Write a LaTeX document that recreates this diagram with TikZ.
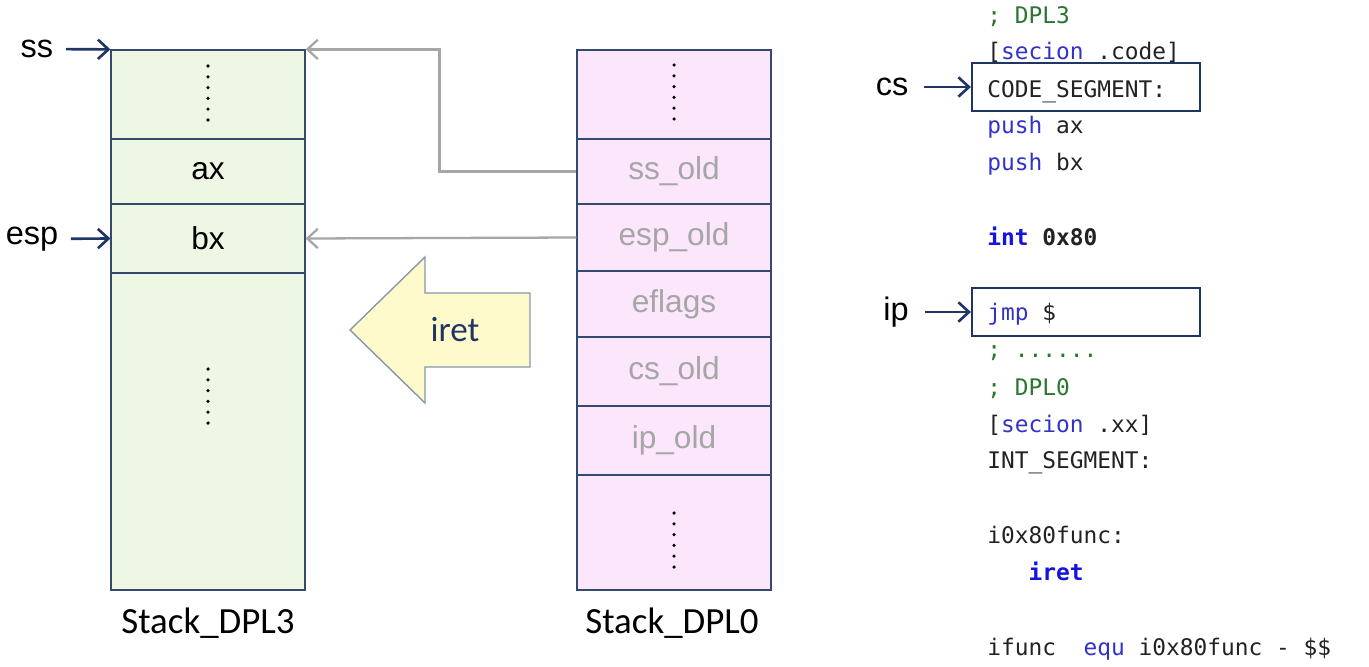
\documentclass[tikz,border=0pt]{standalone}
\usepackage{fontspec}
\setmainfont{Liberation Sans}
\setmonofont{DejaVu Sans Mono}
\newfontfamily\calfont{Carlito}
\usetikzlibrary{arrows.meta,calc}
\definecolor{cellgreen}{HTML}{EEF6E4}
\definecolor{cellpink}{HTML}{FCE6FC}
\definecolor{cellline}{HTML}{34496E}
\definecolor{navy}{HTML}{1F3566}
\definecolor{oldgray}{HTML}{A6A6A6}
\definecolor{cmt}{HTML}{2A7530}
\definecolor{kw}{HTML}{3232C8}
\definecolor{kwb}{HTML}{1414DC}
\definecolor{codeblack}{HTML}{222222}
\definecolor{iretfill}{HTML}{FFFACC}
\definecolor{iretline}{HTML}{8797AE}

\begin{document}
\begin{tikzpicture}[x=0.02cm, y=-0.02cm,
		cell/.style={draw=cellline, line width=0.7pt, minimum width=3.88cm, inner sep=0pt, font=\fontsize{18}{20}\selectfont},
		cellL/.style={cell, fill=cellgreen, text=black},
		cellR/.style={cell, fill=cellpink, text=oldgray},
		reglbl/.style={inner sep=0pt, font=\fontsize{18.5}{20}\selectfont},
		stacklbl/.style={anchor=base, inner sep=0pt, font=\calfont\fontsize{21}{24}\selectfont},
		code/.style={anchor=base west, inner sep=0pt, text=codeblack, font=\ttfamily\fontsize{13}{15}\selectfont},
		codebox/.style={draw=navy, line width=1.3pt, minimum width=4.56cm, minimum height=0.96cm, inner sep=0pt},
		navyarr/.style={draw=navy, line width=1.5pt, -{Straight Barb[length=6pt,width=11pt,line width=1.5pt]}},
		grayarr/.style={draw=oldgray, line width=1.3pt, -{Straight Barb[length=6pt,width=11pt,line width=1.3pt]}}]
		\useasboundingbox (0,0) rectangle (1369,666);
		% user stack
		\foreach \nm/\yc/\h/\txt in {l1/94.5/89/{}, lax/171.5/65/ax, lbx/238.5/69/bx, l4/431.5/317/{}}
			\node[cellL, minimum height=\h*0.02cm] (\nm) at (208,\yc) {\txt};
		% kernel stack
		\foreach \nm/\yc/\h/\txt in {r1/94.5/89/{}, ssold/171.5/65/ss\_old, espold/237.5/67/esp\_old, eflags/304/66/eflags, csold/371.5/69/cs\_old, ipold/440.5/69/ip\_old, r7/532.5/115/{}}
			\node[cellR, minimum height=\h*0.02cm] (\nm) at (674,\yc) {\txt};
		% vertical dots
		\foreach \xd/\yd in {208/93, 208/396, 674/92, 674/540}
			\foreach \k in {0,...,5}
				\fill (\xd,\yd-27+\k*10.8) circle (1pt);
		\node[stacklbl] (lblL) at (208,633) {Stack\_DPL3};
		\node[stacklbl] (lblR) at (672,633) {Stack\_DPL0};
		% registers on the user stack
		\node[reglbl] (ss) at (37,49) {ss};
		\node[reglbl] (esp) at (32,239) {esp};
		\draw[navyarr, shorten <=7pt] (ss) -- (l1.north west);
		\draw[navyarr, shorten <=7pt] (esp) -- (lbx.west);
		% restored values
		\draw[grayarr] (ssold.west) -- ++(-137,0) |- (l1.north east);
		\draw[grayarr] (espold.west) -- (lbx.east);
		% iret block arrow
		\draw[fill=iretfill, draw=iretline, line width=0.8pt, line join=miter]
			(350,330) -- (425,257) -- (425,293) -- (530,293) -- (530,367) -- (425,367) -- (425,403) -- cycle;
		\node[text=navy, font=\calfont\fontsize{20}{22}\selectfont] (iret) at (455,330) {iret};
		% code listing
		\foreach \yb/\txt [count=\i] in {
			23/{\textcolor{cmt}{; DPL3}},
			59/{[\textcolor{kw}{secion} .code]},
			97/{CODE\_SEGMENT:},
			133/{\textcolor{kw}{push} ax},
			170/{\textcolor{kw}{push} bx},
			245/{\textbf{\textcolor{kwb}{int} 0x80}},
			320/{\textcolor{kw}{jmp} \$},
			357/{\textcolor{cmt}{; ......}},
			395/{\textcolor{cmt}{; DPL0}},
			432/{[\textcolor{kw}{secion} .xx]},
			468/{INT\_SEGMENT:},
			543/{i0x80func:},
			580/{~~~\textbf{\textcolor{kwb}{iret}}},
			655/{ifunc~~\textcolor{kw}{equ} i0x80func - \$\$}}
			\node[code] (c\i) at (987,\yb) {\txt};
		\node[codebox] (csbox) at (1086,87) {};
		\node[codebox] (ipbox) at (1086,312) {};
		\node[reglbl] (cs) at (892,87) {cs};
		\node[reglbl] (ip) at (896,312) {ip};
		\draw[navyarr, shorten <=9pt] (cs) -- (csbox.west);
		\draw[navyarr, shorten <=9pt] (ip) -- (ipbox.west);
\end{tikzpicture}
\end{document}
